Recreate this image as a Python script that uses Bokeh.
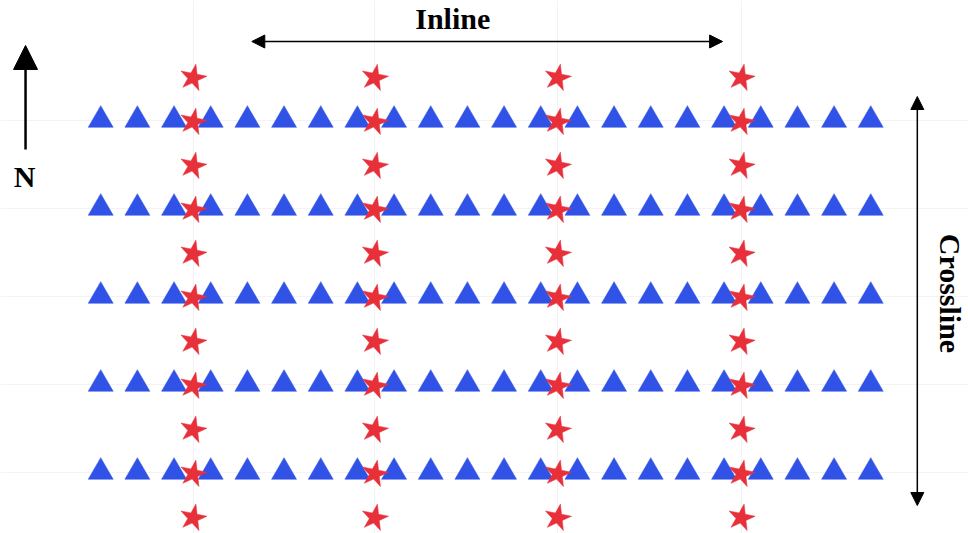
import math
from bokeh.plotting import figure
from bokeh.models import Range1d, FixedTicker, Arrow, NormalHead, Label
from bokeh.embed import file_html
from bokeh.resources import INLINE

# Receivers (blue triangles): inline positions x crossline rows
tri_inline = list(range(22))
tri_rows = [0, 1, 2, 3, 4]

# Sources (red stars): inline columns x crossline positions
star_cols = [2.52, 7.47, 12.46, 17.47]
star_rows = [-0.48, 0.02, 0.52, 1.02, 1.52, 2.02, 2.52, 3.02, 3.52, 4.02, 4.52]

tx = [i for r in tri_rows for i in tri_inline]
ty = [r for r in tri_rows for i in tri_inline]
sx = [c for c in star_cols for r in star_rows]
sy = [r for c in star_cols for r in star_rows]

p = figure(width=968, height=533, output_backend="svg", toolbar_location=None,
           x_range=Range1d(-2.733, 23.666), y_range=Range1d(4.698, -1.359),
           x_axis_location=None, y_axis_location=None, min_border=0)
p.outline_line_color = None
p.background_fill_color = "white"
p.border_fill_color = "white"

p.xgrid.ticker = FixedTicker(ticks=star_cols)
p.ygrid.ticker = FixedTicker(ticks=tri_rows)
p.xgrid.grid_line_color = "#f3f3f3"
p.ygrid.grid_line_color = "#f3f3f3"

p.scatter(tx, ty, marker="triangle", size=25, fill_color="#3152e6", line_color="#3152e6", line_width=0.5)
p.scatter(sx, sy, marker="star", size=28, angle=-0.2, fill_color="#e8303a", line_color="#e8303a", line_width=0.5)

# Arrows
p.add_layout(Arrow(x_start=4.12, y_start=-0.893, x_end=16.96, y_end=-0.893,
                   start=NormalHead(size=13, fill_color="black", line_color="black"),
                   end=NormalHead(size=13, fill_color="black", line_color="black"),
                   line_width=1.5, line_color="black"))
p.add_layout(Arrow(x_start=22.27, y_start=-0.268, x_end=22.27, y_end=4.38,
                   start=NormalHead(size=13, fill_color="black", line_color="black"),
                   end=NormalHead(size=13, fill_color="black", line_color="black"),
                   line_width=1.5, line_color="black"))
p.add_layout(Arrow(x_start=-2.05, y_start=0.334, x_end=-2.05, y_end=-0.848,
                   end=NormalHead(size=24, fill_color="black", line_color="black"),
                   line_width=2.5, line_color="black"))

font = "Liberation Serif"
p.add_layout(Label(x=9.60, y=-1.155, text="Inline", text_font=font, text_font_style="bold",
                   text_font_size="30px", text_align="center", text_baseline="alphabetic", text_color="black"))
p.add_layout(Label(x=-2.078, y=0.641, text="N", text_font=font, text_font_style="bold",
                   text_font_size="30px", text_align="center", text_baseline="alphabetic", text_color="black"))
p.add_layout(Label(x=23.18, y=1.97, text="Crossline", text_font=font, text_font_style="bold",
                   text_font_size="30px", text_align="center", text_baseline="middle",
                   angle=-math.pi / 2, text_color="black"))

open("out.html", "w").write(file_html(p, INLINE))
